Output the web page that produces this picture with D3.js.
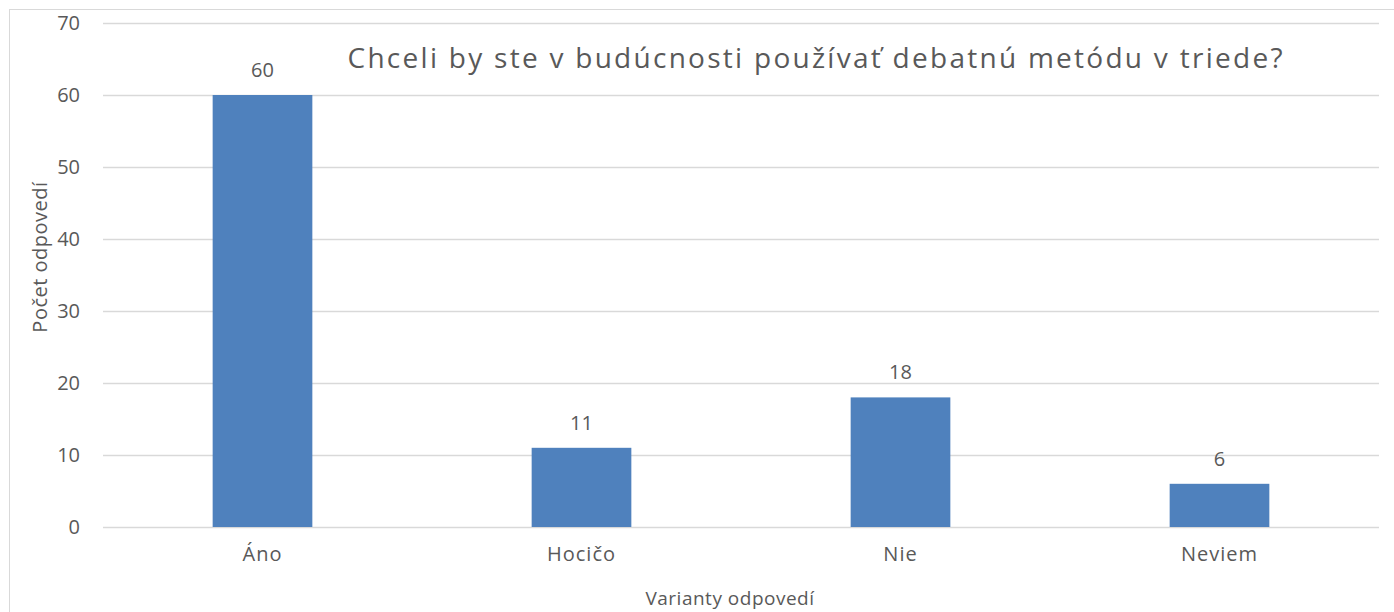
<!DOCTYPE html>
<html>
<head>
<meta charset="utf-8">
<script src="https://cdn.jsdelivr.net/npm/d3@7"></script>
<style>
    body { margin: 0; background: #fff; }
    text { font-family: "Open Sans", Lato, sans-serif; fill: #595959; }
</style>
</head>
<body>
<svg width="1394" height="612"></svg>
<script>
const categories = ["Áno", "Hocičo", "Nie", "Neviem"];
const values = [60, 11, 18, 6];
const yTicks = [0, 10, 20, 30, 40, 50, 60, 70];

const svg = d3.select("svg");
const margin = { left: 103, right: 15, top: 23, bottom: 85 };
const width = 1394, height = 612;

// chart frame
svg.append("rect")
    .attr("x", 9.5).attr("y", 9.5)
    .attr("width", 1400).attr("height", 620)
    .attr("fill", "none")
    .attr("stroke", "#d9d9d9");

const x = d3.scaleBand()
    .domain(categories)
    .range([margin.left, width - margin.right])
    .paddingInner(0.6875)
    .paddingOuter(0.34375);

const y = d3.scaleLinear()
    .domain([0, 70])
    .range([height - margin.bottom, margin.top]);

// gridlines
svg.append("g")
    .selectAll("line")
    .data(yTicks)
    .join("line")
    .attr("x1", margin.left)
    .attr("x2", width - margin.right)
    .attr("y1", d => Math.round(y(d)) + 0.5)
    .attr("y2", d => Math.round(y(d)) + 0.5)
    .attr("stroke", "#d9d9d9")
    .attr("stroke-width", 1.5);

// y tick labels
svg.append("g")
    .selectAll("text")
    .data(yTicks)
    .join("text")
    .attr("x", 80)
    .attr("y", d => y(d) + 7)
    .attr("text-anchor", "end")
    .attr("font-size", "20px")
    .text(d => d);

// bars
svg.append("g")
    .selectAll("rect")
    .data(values)
    .join("rect")
    .attr("x", (d, i) => x(categories[i]))
    .attr("y", d => y(d))
    .attr("width", x.bandwidth())
    .attr("height", d => y(0) - y(d))
    .attr("fill", "#4f81bd");

// value labels
svg.append("g")
    .selectAll("text")
    .data(values)
    .join("text")
    .attr("x", (d, i) => x(categories[i]) + x.bandwidth() / 2)
    .attr("y", d => y(d) - 18)
    .attr("text-anchor", "middle")
    .attr("font-size", "20px")
    .attr("fill", "#404040")
    .text(d => d);

// category labels
svg.append("g")
    .selectAll("text")
    .data(categories)
    .join("text")
    .attr("x", d => x(d) + x.bandwidth() / 2)
    .attr("y", y(0) + 34)
    .attr("text-anchor", "middle")
    .attr("font-size", "20px")
    .attr("letter-spacing", "1px")
    .text(d => d);

// title, stretched a little to the width it has in the original
svg.append("text")
    .attr("x", 815)
    .attr("y", 68)
    .attr("text-anchor", "middle")
    .attr("font-size", "28px")
    .attr("textLength", 935)
    .attr("lengthAdjust", "spacing")
    .text("Chceli by ste v budúcnosti používať debatnú metódu v triede?");

// axis titles
svg.append("text")
    .attr("x", 730)
    .attr("y", 605)
    .attr("text-anchor", "middle")
    .attr("font-size", "19px")
    .attr("letter-spacing", "0.5px")
    .text("Varianty odpovedí");

svg.append("text")
    .attr("transform", "translate(47,257) rotate(-90)")
    .attr("text-anchor", "middle")
    .attr("font-size", "20px")
    .attr("letter-spacing", "0.5px")
    .text("Počet odpovedí");
</script>
</body>
</html>
